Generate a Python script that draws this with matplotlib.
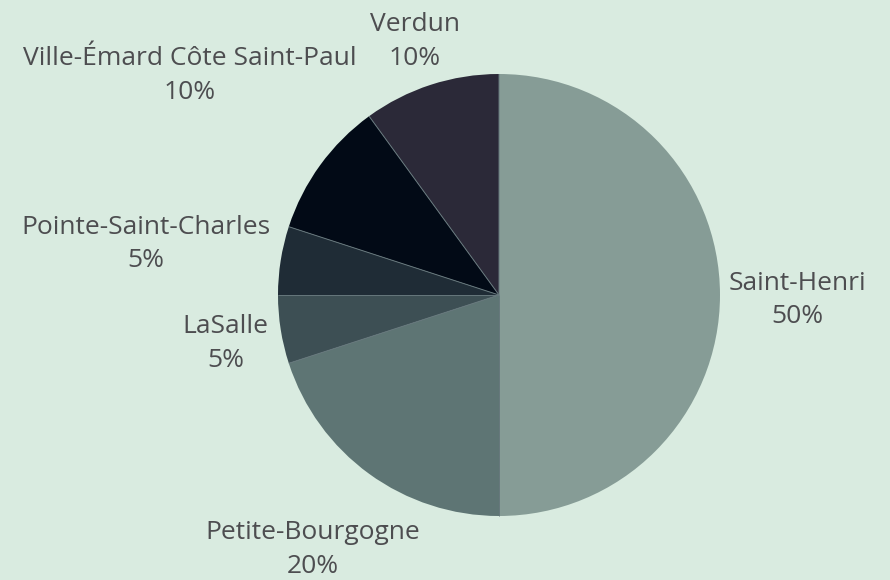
import matplotlib.pyplot as plt
import numpy as np

# Data
quartiers = ['Saint-Henri', 'Petite-Bourgogne', 'LaSalle', 'Pointe-Saint-Charles',
             'Ville-Émard Côte Saint-Paul', 'Verdun']
parts = [50, 20, 5, 5, 10, 10]

couleurs = ['#869c96', '#5e7574', '#3d4f54', '#1f2c36', '#020a16', '#2b2938']
fond = '#d9ebe0'
texte = '#4d4d50'

plt.rcParams['font.family'] = ['Open Sans', 'DejaVu Sans']

fig = plt.figure(figsize=(8.9, 5.8), dpi=100, facecolor=fond)
ax = fig.add_axes([0, 0, 1, 1])
ax.set_facecolor(fond)

# work in pixel units
cx, cy, R = 499, 285, 221
wedges, _ = ax.pie(parts, colors=couleurs, startangle=90, counterclock=False,
                   center=(cx, cy), radius=R, wedgeprops=dict(linewidth=0))
ax.set_xlim(0, 890)
ax.set_ylim(0, 580)
ax.set_aspect('equal')
ax.axis('off')

# thin light separators between slices
for w in wedges:
    a = np.deg2rad(w.theta1)
    ax.plot([cx, cx + R * np.cos(a)], [cy, cy + R * np.sin(a)],
            color='#66777c', lw=0.7, solid_capstyle='butt')

renderer = fig.canvas.get_renderer()
pad = 9
for w, nom, p in zip(wedges, quartiers, parts):
    ang = np.deg2rad((w.theta1 + w.theta2) / 2)
    t = ax.text(0, 0, f'{nom}\n{p}%', ha='center', va='center', multialignment='center',
                fontsize=19, color=texte, linespacing=1.45)
    bb = t.get_window_extent(renderer)
    d = R + pad + abs(bb.width / 2 * np.cos(ang)) + abs(bb.height / 2 * np.sin(ang))
    y = cy + d * np.sin(ang) - 5
    # keep the label block inside the figure
    y = max(y, bb.height / 2 + 1)
    t.set_position((cx + d * np.cos(ang), y))

fig.savefig('out.png', dpi=100, facecolor=fond)
